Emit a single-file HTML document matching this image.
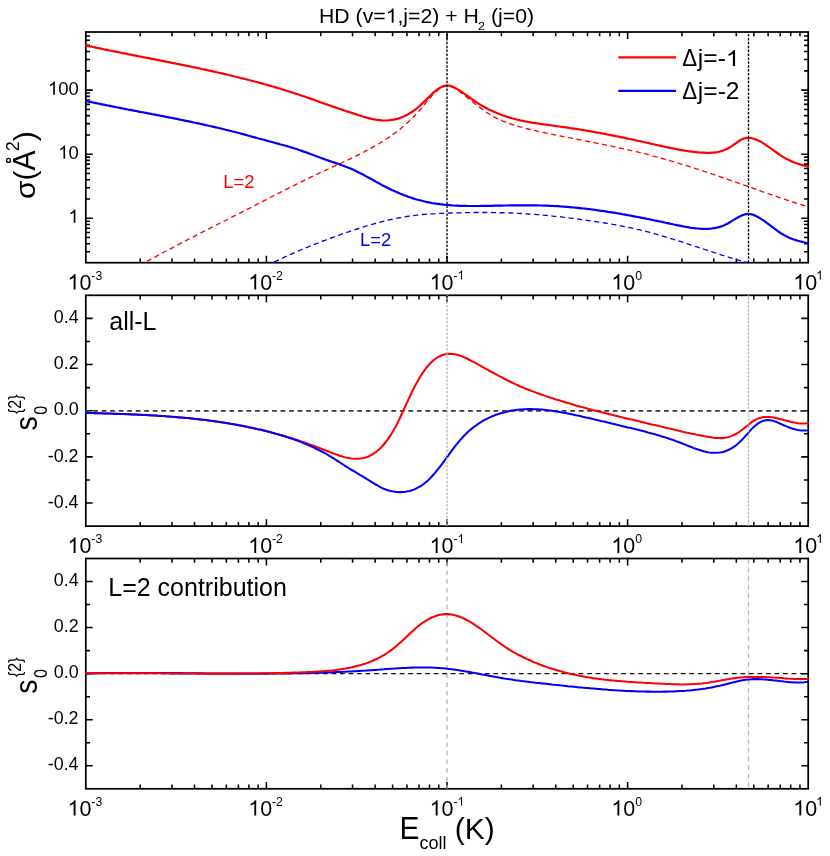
<!DOCTYPE html><html><head><meta charset="utf-8"><title>chart</title><style>
html,body{margin:0;padding:0;background:#fff}body{width:830px;height:856px;overflow:hidden}
svg{display:block;will-change:transform}text{font-family:"Liberation Sans",sans-serif;fill:#000}
</style></head><body>
<svg width="830" height="856" viewBox="0 0 830 856">
<rect x="0" y="0" width="830" height="856" fill="#fff"/>
<defs>
<clipPath id="k0"><rect x="84.90" y="31.10" width="724.20" height="232.50"/></clipPath>
<clipPath id="k1"><rect x="84.90" y="294.40" width="724.20" height="232.60"/></clipPath>
<clipPath id="k2"><rect x="84.90" y="557.60" width="724.20" height="232.10"/></clipPath>
</defs>
<path d="M140.17 32.00v4.20M140.17 262.70v-4.20M171.97 32.00v4.20M171.97 262.70v-4.20M194.53 32.00v4.20M194.53 262.70v-4.20M212.03 32.00v4.20M212.03 262.70v-4.20M226.33 32.00v4.20M226.33 262.70v-4.20M238.42 32.00v4.20M238.42 262.70v-4.20M248.90 32.00v4.20M248.90 262.70v-4.20M258.14 32.00v4.20M258.14 262.70v-4.20M266.40 32.00v6.90M266.40 262.70v-6.90M320.77 32.00v4.20M320.77 262.70v-4.20M352.57 32.00v4.20M352.57 262.70v-4.20M375.13 32.00v4.20M375.13 262.70v-4.20M392.63 32.00v4.20M392.63 262.70v-4.20M406.93 32.00v4.20M406.93 262.70v-4.20M419.02 32.00v4.20M419.02 262.70v-4.20M429.50 32.00v4.20M429.50 262.70v-4.20M438.74 32.00v4.20M438.74 262.70v-4.20M447.00 32.00v6.90M447.00 262.70v-6.90M501.37 32.00v4.20M501.37 262.70v-4.20M533.17 32.00v4.20M533.17 262.70v-4.20M555.73 32.00v4.20M555.73 262.70v-4.20M573.23 32.00v4.20M573.23 262.70v-4.20M587.53 32.00v4.20M587.53 262.70v-4.20M599.62 32.00v4.20M599.62 262.70v-4.20M610.10 32.00v4.20M610.10 262.70v-4.20M619.34 32.00v4.20M619.34 262.70v-4.20M627.60 32.00v6.90M627.60 262.70v-6.90M681.97 32.00v4.20M681.97 262.70v-4.20M713.77 32.00v4.20M713.77 262.70v-4.20M736.33 32.00v4.20M736.33 262.70v-4.20M753.83 32.00v4.20M753.83 262.70v-4.20M768.13 32.00v4.20M768.13 262.70v-4.20M780.22 32.00v4.20M780.22 262.70v-4.20M790.70 32.00v4.20M790.70 262.70v-4.20M799.94 32.00v4.20M799.94 262.70v-4.20M85.80 251.72h4.20M808.20 251.72h-4.20M85.80 243.72h4.20M808.20 243.72h-4.20M85.80 237.51h4.20M808.20 237.51h-4.20M85.80 232.44h4.20M808.20 232.44h-4.20M85.80 228.15h4.20M808.20 228.15h-4.20M85.80 224.44h4.20M808.20 224.44h-4.20M85.80 221.16h4.20M808.20 221.16h-4.20M85.80 218.23h6.90M808.20 218.23h-6.90M85.80 198.95h4.20M808.20 198.95h-4.20M85.80 187.68h4.20M808.20 187.68h-4.20M85.80 179.67h4.20M808.20 179.67h-4.20M85.80 173.47h4.20M808.20 173.47h-4.20M85.80 168.40h4.20M808.20 168.40h-4.20M85.80 164.11h4.20M808.20 164.11h-4.20M85.80 160.39h4.20M808.20 160.39h-4.20M85.80 157.12h4.20M808.20 157.12h-4.20M85.80 154.19h6.90M808.20 154.19h-6.90M85.80 134.91h4.20M808.20 134.91h-4.20M85.80 123.63h4.20M808.20 123.63h-4.20M85.80 115.63h4.20M808.20 115.63h-4.20M85.80 109.42h4.20M808.20 109.42h-4.20M85.80 104.35h4.20M808.20 104.35h-4.20M85.80 100.06h4.20M808.20 100.06h-4.20M85.80 96.35h4.20M808.20 96.35h-4.20M85.80 93.07h4.20M808.20 93.07h-4.20M85.80 90.14h6.90M808.20 90.14h-6.90M85.80 70.86h4.20M808.20 70.86h-4.20M85.80 59.58h4.20M808.20 59.58h-4.20M85.80 51.58h4.20M808.20 51.58h-4.20M85.80 45.37h4.20M808.20 45.37h-4.20M85.80 40.30h4.20M808.20 40.30h-4.20M85.80 36.01h4.20M808.20 36.01h-4.20" stroke="#000" stroke-width="1.55" fill="none"/>
<rect x="85.80" y="32.00" width="722.40" height="230.70" fill="none" stroke="#000" stroke-width="1.75"/>
<path d="M140.17 295.30v4.20M140.17 526.10v-4.20M171.97 295.30v4.20M171.97 526.10v-4.20M194.53 295.30v4.20M194.53 526.10v-4.20M212.03 295.30v4.20M212.03 526.10v-4.20M226.33 295.30v4.20M226.33 526.10v-4.20M238.42 295.30v4.20M238.42 526.10v-4.20M248.90 295.30v4.20M248.90 526.10v-4.20M258.14 295.30v4.20M258.14 526.10v-4.20M266.40 295.30v6.90M266.40 526.10v-6.90M320.77 295.30v4.20M320.77 526.10v-4.20M352.57 295.30v4.20M352.57 526.10v-4.20M375.13 295.30v4.20M375.13 526.10v-4.20M392.63 295.30v4.20M392.63 526.10v-4.20M406.93 295.30v4.20M406.93 526.10v-4.20M419.02 295.30v4.20M419.02 526.10v-4.20M429.50 295.30v4.20M429.50 526.10v-4.20M438.74 295.30v4.20M438.74 526.10v-4.20M447.00 295.30v6.90M447.00 526.10v-6.90M501.37 295.30v4.20M501.37 526.10v-4.20M533.17 295.30v4.20M533.17 526.10v-4.20M555.73 295.30v4.20M555.73 526.10v-4.20M573.23 295.30v4.20M573.23 526.10v-4.20M587.53 295.30v4.20M587.53 526.10v-4.20M599.62 295.30v4.20M599.62 526.10v-4.20M610.10 295.30v4.20M610.10 526.10v-4.20M619.34 295.30v4.20M619.34 526.10v-4.20M627.60 295.30v6.90M627.60 526.10v-6.90M681.97 295.30v4.20M681.97 526.10v-4.20M713.77 295.30v4.20M713.77 526.10v-4.20M736.33 295.30v4.20M736.33 526.10v-4.20M753.83 295.30v4.20M753.83 526.10v-4.20M768.13 295.30v4.20M768.13 526.10v-4.20M780.22 295.30v4.20M780.22 526.10v-4.20M790.70 295.30v4.20M790.70 526.10v-4.20M799.94 295.30v4.20M799.94 526.10v-4.20M85.80 503.02h6.90M808.20 503.02h-6.90M85.80 479.94h4.20M808.20 479.94h-4.20M85.80 456.86h6.90M808.20 456.86h-6.90M85.80 433.78h4.20M808.20 433.78h-4.20M85.80 410.70h6.90M808.20 410.70h-6.90M85.80 387.62h4.20M808.20 387.62h-4.20M85.80 364.54h6.90M808.20 364.54h-6.90M85.80 341.46h4.20M808.20 341.46h-4.20M85.80 318.38h6.90M808.20 318.38h-6.90" stroke="#000" stroke-width="1.55" fill="none"/>
<rect x="85.80" y="295.30" width="722.40" height="230.80" fill="none" stroke="#000" stroke-width="1.75"/>
<path d="M140.17 558.50v4.20M140.17 788.80v-4.20M171.97 558.50v4.20M171.97 788.80v-4.20M194.53 558.50v4.20M194.53 788.80v-4.20M212.03 558.50v4.20M212.03 788.80v-4.20M226.33 558.50v4.20M226.33 788.80v-4.20M238.42 558.50v4.20M238.42 788.80v-4.20M248.90 558.50v4.20M248.90 788.80v-4.20M258.14 558.50v4.20M258.14 788.80v-4.20M266.40 558.50v6.90M266.40 788.80v-6.90M320.77 558.50v4.20M320.77 788.80v-4.20M352.57 558.50v4.20M352.57 788.80v-4.20M375.13 558.50v4.20M375.13 788.80v-4.20M392.63 558.50v4.20M392.63 788.80v-4.20M406.93 558.50v4.20M406.93 788.80v-4.20M419.02 558.50v4.20M419.02 788.80v-4.20M429.50 558.50v4.20M429.50 788.80v-4.20M438.74 558.50v4.20M438.74 788.80v-4.20M447.00 558.50v6.90M447.00 788.80v-6.90M501.37 558.50v4.20M501.37 788.80v-4.20M533.17 558.50v4.20M533.17 788.80v-4.20M555.73 558.50v4.20M555.73 788.80v-4.20M573.23 558.50v4.20M573.23 788.80v-4.20M587.53 558.50v4.20M587.53 788.80v-4.20M599.62 558.50v4.20M599.62 788.80v-4.20M610.10 558.50v4.20M610.10 788.80v-4.20M619.34 558.50v4.20M619.34 788.80v-4.20M627.60 558.50v6.90M627.60 788.80v-6.90M681.97 558.50v4.20M681.97 788.80v-4.20M713.77 558.50v4.20M713.77 788.80v-4.20M736.33 558.50v4.20M736.33 788.80v-4.20M753.83 558.50v4.20M753.83 788.80v-4.20M768.13 558.50v4.20M768.13 788.80v-4.20M780.22 558.50v4.20M780.22 788.80v-4.20M790.70 558.50v4.20M790.70 788.80v-4.20M799.94 558.50v4.20M799.94 788.80v-4.20M85.80 765.77h6.90M808.20 765.77h-6.90M85.80 742.74h4.20M808.20 742.74h-4.20M85.80 719.71h6.90M808.20 719.71h-6.90M85.80 696.68h4.20M808.20 696.68h-4.20M85.80 673.65h6.90M808.20 673.65h-6.90M85.80 650.62h4.20M808.20 650.62h-4.20M85.80 627.59h6.90M808.20 627.59h-6.90M85.80 604.56h4.20M808.20 604.56h-4.20M85.80 581.53h6.90M808.20 581.53h-6.90" stroke="#000" stroke-width="1.55" fill="none"/>
<rect x="85.80" y="558.50" width="722.40" height="230.30" fill="none" stroke="#000" stroke-width="1.75"/>
<g clip-path="url(#k0)" fill="none" stroke-linejoin="round">
<path d="M144.3 262.9L146.3 261.8L148.3 260.7L150.3 259.6L152.3 258.5L154.3 257.4L156.3 256.3L158.3 255.2L160.3 254.2L162.3 253.1L164.3 252.0L166.3 251.0L168.3 249.9L170.3 248.8L172.3 247.8L174.3 246.7L176.3 245.7L178.3 244.6L180.3 243.6L182.3 242.5L184.3 241.5L186.3 240.4L188.3 239.4L190.3 238.4L192.3 237.3L194.3 236.3L196.3 235.3L198.3 234.2L200.3 233.2L202.3 232.2L204.3 231.2L206.3 230.1L208.3 229.1L210.3 228.1L212.3 227.1L214.3 226.1L216.3 225.0L218.3 224.0L220.3 223.0L222.3 222.0L224.3 221.0L226.3 220.0L228.3 218.9L230.3 217.9L232.3 216.9L234.3 215.9L236.3 214.9L238.3 213.9L240.3 212.8L242.3 211.8L244.3 210.8L246.3 209.8L248.3 208.8L250.3 207.8L252.3 206.7L254.3 205.7L256.3 204.7L258.3 203.7L260.3 202.6L262.3 201.6L264.3 200.6L266.3 199.6L268.3 198.5L270.3 197.5L272.3 196.5L274.3 195.4L276.3 194.4L278.3 193.4L280.3 192.4L282.3 191.3L284.3 190.3L286.3 189.3L288.3 188.3L290.3 187.3L292.3 186.3L294.3 185.3L296.3 184.3L298.3 183.3L300.3 182.3L302.3 181.3L304.3 180.3L306.3 179.3L308.3 178.3L310.3 177.4L312.3 176.4L314.3 175.5L316.3 174.5L318.3 173.6L320.3 172.6L322.3 171.7L324.3 170.8L326.3 169.9L328.3 169.0L330.3 168.0L332.3 167.1L334.3 166.2L336.3 165.3L338.3 164.4L340.3 163.5L342.3 162.5L344.3 161.6L346.3 160.7L348.3 159.7L350.3 158.8L352.3 157.8L354.3 156.9L356.3 155.9L358.3 154.9L360.3 153.9L362.3 152.8L364.3 151.8L366.3 150.7L368.3 149.7L370.3 148.6L372.3 147.4L374.3 146.3L376.3 145.1L378.3 144.0L380.3 142.8L382.3 141.5L384.3 140.3L386.3 139.0L388.3 137.7L390.3 136.3L392.3 134.9L394.3 133.5L396.3 132.0L398.3 130.5L400.3 128.9L402.3 127.2L404.3 125.5L406.3 123.8L408.3 121.9L410.3 120.1L412.3 118.1L414.3 116.0L416.3 113.9L418.3 111.7L420.3 109.5L422.3 107.1L424.3 104.7L426.3 102.2L428.3 99.8L430.3 97.5L432.3 95.3L434.3 93.3L436.3 91.4L438.3 89.8L440.3 88.4L442.3 87.3L444.3 86.6L446.3 86.1L448.3 86.1L450.3 86.5L452.3 87.2L454.3 88.1L456.3 89.3L458.3 90.6L460.3 92.1L462.3 93.6L464.3 95.2L466.3 96.8L468.3 98.4L470.3 100.0L472.3 101.6L474.3 103.2L476.3 104.8L478.3 106.3L480.3 107.9L482.3 109.4L484.3 110.8L486.3 112.2L488.3 113.5L490.3 114.8L492.3 116.0L494.3 117.1L496.3 118.1L498.3 119.1L500.3 120.0L502.3 120.9L504.3 121.7L506.3 122.4L508.3 123.2L510.3 123.8L512.3 124.5L514.3 125.1L516.3 125.7L518.3 126.3L520.3 126.9L522.3 127.4L524.3 127.9L526.3 128.5L528.3 129.0L530.3 129.5L532.3 130.0L534.3 130.4L536.3 130.9L538.3 131.4L540.3 131.8L542.3 132.3L544.3 132.7L546.3 133.1L548.3 133.5L550.3 134.0L552.3 134.4L554.3 134.8L556.3 135.2L558.3 135.6L560.3 136.0L562.3 136.4L564.3 136.8L566.3 137.2L568.3 137.6L570.3 137.9L572.3 138.3L574.3 138.7L576.3 139.1L578.3 139.5L580.3 139.9L582.3 140.3L584.3 140.7L586.3 141.1L588.3 141.5L590.3 141.9L592.3 142.3L594.3 142.7L596.3 143.1L598.3 143.5L600.3 143.9L602.3 144.3L604.3 144.7L606.3 145.1L608.3 145.5L610.3 145.9L612.3 146.3L614.3 146.8L616.3 147.2L618.3 147.6L620.3 148.1L622.3 148.5L624.3 149.0L626.3 149.4L628.3 149.9L630.3 150.3L632.3 150.8L634.3 151.3L636.3 151.7L638.3 152.2L640.3 152.7L642.3 153.2L644.3 153.7L646.3 154.2L648.3 154.7L650.3 155.3L652.3 155.8L654.3 156.3L656.3 156.8L658.3 157.4L660.3 157.9L662.3 158.5L664.3 159.1L666.3 159.6L668.3 160.2L670.3 160.8L672.3 161.4L674.3 162.0L676.3 162.6L678.3 163.2L680.3 163.8L682.3 164.4L684.3 165.0L686.3 165.6L688.3 166.2L690.3 166.9L692.3 167.5L694.3 168.1L696.3 168.8L698.3 169.4L700.3 170.1L702.3 170.7L704.3 171.4L706.3 172.1L708.3 172.7L710.3 173.4L712.3 174.1L714.3 174.7L716.3 175.4L718.3 176.1L720.3 176.8L722.3 177.5L724.3 178.2L726.3 178.9L728.3 179.6L730.3 180.3L732.3 181.0L734.3 181.7L736.3 182.4L738.3 183.1L740.3 183.8L742.3 184.5L744.3 185.2L746.3 185.9L748.3 186.6L750.3 187.3L752.3 188.0L754.3 188.7L756.3 189.4L758.3 190.1L760.3 190.8L762.3 191.6L764.3 192.3L766.3 193.0L768.3 193.7L770.3 194.3L772.3 195.0L774.3 195.7L776.3 196.4L778.3 197.1L780.3 197.8L782.3 198.5L784.3 199.1L786.3 199.8L788.3 200.5L790.3 201.1L792.3 201.8L794.3 202.5L796.3 203.1L798.3 203.8L800.3 204.4L802.3 205.0L804.3 205.7L806.3 206.3L808.1 206.8L808.9 207.1" stroke="#f00" stroke-width="1.35" stroke-dasharray="5.1 3.55" stroke-dashoffset="-3"/>
<path d="M273.0 262.6L275.0 261.6L277.0 260.7L279.0 259.7L281.0 258.8L283.0 257.9L285.0 256.9L287.0 256.0L289.0 255.1L291.0 254.2L293.0 253.3L295.0 252.5L297.0 251.6L299.0 250.7L301.0 249.9L303.0 249.0L305.0 248.2L307.0 247.4L309.0 246.6L311.0 245.7L313.0 244.9L315.0 244.1L317.0 243.4L319.0 242.6L321.0 241.8L323.0 241.0L325.0 240.3L327.0 239.5L329.0 238.8L331.0 238.0L333.0 237.3L335.0 236.6L337.0 235.8L339.0 235.1L341.0 234.4L343.0 233.7L345.0 233.0L347.0 232.3L349.0 231.6L351.0 231.0L353.0 230.3L355.0 229.6L357.0 229.0L359.0 228.3L361.0 227.7L363.0 227.1L365.0 226.4L367.0 225.8L369.0 225.2L371.0 224.6L373.0 224.1L375.0 223.5L377.0 222.9L379.0 222.4L381.0 221.9L383.0 221.4L385.0 220.9L387.0 220.4L389.0 219.9L391.0 219.5L393.0 219.0L395.0 218.6L397.0 218.2L399.0 217.8L401.0 217.5L403.0 217.1L405.0 216.8L407.0 216.5L409.0 216.2L411.0 215.9L413.0 215.6L415.0 215.4L417.0 215.2L419.0 214.9L421.0 214.7L423.0 214.5L425.0 214.4L427.0 214.2L429.0 214.0L431.0 213.9L433.0 213.8L435.0 213.7L437.0 213.5L439.0 213.4L441.0 213.3L443.0 213.3L445.0 213.2L447.0 213.1L449.0 213.0L451.0 213.0L453.0 212.9L455.0 212.9L457.0 212.8L459.0 212.8L461.0 212.7L463.0 212.7L465.0 212.6L467.0 212.6L469.0 212.6L471.0 212.6L473.0 212.5L475.0 212.5L477.0 212.5L479.0 212.5L481.0 212.5L483.0 212.5L485.0 212.5L487.0 212.5L489.0 212.5L491.0 212.5L493.0 212.6L495.0 212.6L497.0 212.6L499.0 212.7L501.0 212.7L503.0 212.7L505.0 212.8L507.0 212.9L509.0 212.9L511.0 213.0L513.0 213.1L515.0 213.2L517.0 213.3L519.0 213.4L521.0 213.5L523.0 213.6L525.0 213.7L527.0 213.8L529.0 214.0L531.0 214.1L533.0 214.2L535.0 214.4L537.0 214.6L539.0 214.7L541.0 214.9L543.0 215.1L545.0 215.3L547.0 215.4L549.0 215.6L551.0 215.8L553.0 216.1L555.0 216.3L557.0 216.5L559.0 216.7L561.0 216.9L563.0 217.2L565.0 217.4L567.0 217.6L569.0 217.9L571.0 218.1L573.0 218.4L575.0 218.7L577.0 218.9L579.0 219.2L581.0 219.5L583.0 219.7L585.0 220.0L587.0 220.3L589.0 220.6L591.0 220.9L593.0 221.2L595.0 221.5L597.0 221.8L599.0 222.1L601.0 222.4L603.0 222.7L605.0 223.0L607.0 223.3L609.0 223.7L611.0 224.0L613.0 224.4L615.0 224.7L617.0 225.1L619.0 225.5L621.0 225.9L623.0 226.3L625.0 226.7L627.0 227.1L629.0 227.5L631.0 227.9L633.0 228.3L635.0 228.8L637.0 229.3L639.0 229.7L641.0 230.2L643.0 230.7L645.0 231.2L647.0 231.7L649.0 232.2L651.0 232.8L653.0 233.3L655.0 233.9L657.0 234.4L659.0 235.0L661.0 235.6L663.0 236.2L665.0 236.8L667.0 237.4L669.0 238.0L671.0 238.6L673.0 239.2L675.0 239.8L677.0 240.5L679.0 241.1L681.0 241.7L683.0 242.4L685.0 243.0L687.0 243.7L689.0 244.3L691.0 245.0L693.0 245.6L695.0 246.3L697.0 246.9L699.0 247.6L701.0 248.3L703.0 248.9L705.0 249.6L707.0 250.2L709.0 250.9L711.0 251.5L713.0 252.2L715.0 252.8L717.0 253.5L719.0 254.1L721.0 254.8L723.0 255.4L725.0 256.0L727.0 256.7L729.0 257.3L731.0 257.9L733.0 258.5L735.0 259.1L737.0 259.7L739.0 260.3L741.0 260.9L743.0 261.5L745.0 262.0L746.5 262.5" stroke="#00f" stroke-width="1.35" stroke-dasharray="5.1 3.55" stroke-dashoffset="-1.4"/>
<path d="M85.0 45.3L85.8 45.4L87.8 45.9L89.8 46.3L91.8 46.7L93.8 47.2L95.8 47.6L97.8 48.0L99.8 48.4L101.8 48.8L103.8 49.3L105.8 49.7L107.8 50.1L109.8 50.5L111.8 50.9L113.8 51.3L115.8 51.7L117.8 52.1L119.8 52.5L121.8 52.9L123.8 53.3L125.8 53.7L127.8 54.1L129.8 54.5L131.8 54.9L133.8 55.3L135.8 55.7L137.8 56.1L139.8 56.5L141.8 56.9L143.8 57.3L145.8 57.7L147.8 58.0L149.8 58.4L151.8 58.8L153.8 59.2L155.8 59.6L157.8 60.0L159.8 60.4L161.8 60.8L163.8 61.2L165.8 61.6L167.8 62.0L169.8 62.4L171.8 62.8L173.8 63.2L175.8 63.6L177.8 64.0L179.8 64.4L181.8 64.8L183.8 65.2L185.8 65.6L187.8 66.0L189.8 66.4L191.8 66.9L193.8 67.3L195.8 67.7L197.8 68.1L199.8 68.5L201.8 69.0L203.8 69.4L205.8 69.8L207.8 70.3L209.8 70.7L211.8 71.1L213.8 71.6L215.8 72.0L217.8 72.5L219.8 72.9L221.8 73.4L223.8 73.9L225.8 74.3L227.8 74.8L229.8 75.3L231.8 75.7L233.8 76.2L235.8 76.7L237.8 77.2L239.8 77.7L241.8 78.2L243.8 78.7L245.8 79.2L247.8 79.7L249.8 80.2L251.8 80.7L253.8 81.3L255.8 81.8L257.8 82.3L259.8 82.9L261.8 83.4L263.8 84.0L265.8 84.5L267.8 85.1L269.8 85.7L271.8 86.3L273.8 86.8L275.8 87.4L277.8 88.0L279.8 88.6L281.8 89.2L283.8 89.8L285.8 90.5L287.8 91.1L289.8 91.7L291.8 92.4L293.8 93.0L295.8 93.7L297.8 94.3L299.8 95.0L301.8 95.7L303.8 96.3L305.8 97.0L307.8 97.7L309.8 98.4L311.8 99.1L313.8 99.8L315.8 100.5L317.8 101.3L319.8 102.0L321.8 102.7L323.8 103.4L325.8 104.1L327.8 104.8L329.8 105.5L331.8 106.2L333.8 106.9L335.8 107.6L337.8 108.3L339.8 109.0L341.8 109.6L343.8 110.3L345.8 111.0L347.8 111.6L349.8 112.3L351.8 112.9L353.8 113.6L355.8 114.2L357.8 114.9L359.8 115.5L361.8 116.2L363.8 116.8L365.8 117.4L367.8 117.9L369.8 118.4L371.8 118.9L373.8 119.3L375.8 119.7L377.8 120.0L379.8 120.2L381.8 120.4L383.8 120.5L385.8 120.5L387.8 120.4L389.8 120.2L391.8 119.9L393.8 119.6L395.8 119.1L397.8 118.6L399.8 118.0L401.8 117.2L403.8 116.4L405.8 115.4L407.8 114.4L409.8 113.2L411.8 112.0L413.8 110.6L415.8 109.1L417.8 107.5L419.8 105.8L421.8 103.9L423.8 102.0L425.8 100.1L427.8 98.1L429.8 96.2L431.8 94.3L433.8 92.4L435.8 90.7L437.8 89.2L439.8 87.9L441.8 86.8L443.8 86.0L445.8 85.5L447.8 85.5L449.8 85.7L451.8 86.3L453.8 87.2L455.8 88.2L457.8 89.4L459.8 90.7L461.8 92.0L463.8 93.4L465.8 94.8L467.8 96.2L469.8 97.7L471.8 99.1L473.8 100.5L475.8 101.8L477.8 103.2L479.8 104.4L481.8 105.6L483.8 106.7L485.8 107.8L487.8 108.9L489.8 109.9L491.8 110.8L493.8 111.8L495.8 112.6L497.8 113.4L499.8 114.2L501.8 115.0L503.8 115.7L505.8 116.4L507.8 117.0L509.8 117.6L511.8 118.2L513.8 118.7L515.8 119.3L517.8 119.8L519.8 120.2L521.8 120.7L523.8 121.1L525.8 121.5L527.8 121.9L529.8 122.2L531.8 122.6L533.8 122.9L535.8 123.2L537.8 123.5L539.8 123.8L541.8 124.1L543.8 124.4L545.8 124.7L547.8 125.0L549.8 125.2L551.8 125.5L553.8 125.7L555.8 126.0L557.8 126.3L559.8 126.5L561.8 126.8L563.8 127.1L565.8 127.4L567.8 127.7L569.8 128.0L571.8 128.3L573.8 128.6L575.8 128.9L577.8 129.2L579.8 129.5L581.8 129.9L583.8 130.2L585.8 130.5L587.8 130.9L589.8 131.2L591.8 131.6L593.8 131.9L595.8 132.3L597.8 132.6L599.8 133.0L601.8 133.4L603.8 133.7L605.8 134.1L607.8 134.5L609.8 134.9L611.8 135.3L613.8 135.7L615.8 136.1L617.8 136.5L619.8 136.9L621.8 137.3L623.8 137.7L625.8 138.1L627.8 138.6L629.8 139.0L631.8 139.4L633.8 139.8L635.8 140.3L637.8 140.7L639.8 141.2L641.8 141.6L643.8 142.0L645.8 142.5L647.8 142.9L649.8 143.4L651.8 143.8L653.8 144.3L655.8 144.8L657.8 145.2L659.8 145.7L661.8 146.1L663.8 146.5L665.8 147.0L667.8 147.4L669.8 147.8L671.8 148.2L673.8 148.6L675.8 149.0L677.8 149.4L679.8 149.8L681.8 150.1L683.8 150.4L685.8 150.8L687.8 151.1L689.8 151.3L691.8 151.6L693.8 151.9L695.8 152.1L697.8 152.3L699.8 152.5L701.8 152.6L703.8 152.7L705.8 152.8L707.8 152.9L709.8 152.8L711.8 152.7L713.8 152.6L715.8 152.3L717.8 152.0L719.8 151.5L721.8 150.9L723.8 150.3L725.8 149.4L727.8 148.5L729.8 147.4L731.8 146.1L733.8 144.7L735.8 143.3L737.8 141.9L739.8 140.5L741.8 139.4L743.8 138.5L745.8 138.0L747.8 137.8L749.8 137.9L751.8 138.2L753.8 138.7L755.8 139.4L757.8 140.3L759.8 141.3L761.8 142.4L763.8 143.6L765.8 144.9L767.8 146.3L769.8 147.7L771.8 149.1L773.8 150.6L775.8 152.0L777.8 153.5L779.8 154.9L781.8 156.2L783.8 157.4L785.8 158.6L787.8 159.6L789.8 160.6L791.8 161.5L793.8 162.3L795.8 163.0L797.8 163.7L799.8 164.4L801.8 164.9L803.8 165.5L805.8 166.0L807.8 166.5L808.4 166.7L809.2 166.9" stroke="#f00" stroke-width="2.2"/>
<path d="M85.0 100.8L85.8 100.9L87.8 101.4L89.8 101.8L91.8 102.2L93.8 102.7L95.8 103.1L97.8 103.5L99.8 103.9L101.8 104.3L103.8 104.7L105.8 105.1L107.8 105.5L109.8 105.9L111.8 106.3L113.8 106.7L115.8 107.1L117.8 107.5L119.8 107.9L121.8 108.3L123.8 108.7L125.8 109.1L127.8 109.5L129.8 109.8L131.8 110.2L133.8 110.6L135.8 111.0L137.8 111.4L139.8 111.8L141.8 112.1L143.8 112.5L145.8 112.9L147.8 113.3L149.8 113.7L151.8 114.1L153.8 114.4L155.8 114.8L157.8 115.2L159.8 115.6L161.8 116.0L163.8 116.4L165.8 116.8L167.8 117.2L169.8 117.6L171.8 117.9L173.8 118.3L175.8 118.7L177.8 119.1L179.8 119.6L181.8 120.0L183.8 120.4L185.8 120.8L187.8 121.2L189.8 121.6L191.8 122.0L193.8 122.5L195.8 122.9L197.8 123.3L199.8 123.7L201.8 124.2L203.8 124.6L205.8 125.1L207.8 125.5L209.8 126.0L211.8 126.4L213.8 126.9L215.8 127.3L217.8 127.8L219.8 128.3L221.8 128.8L223.8 129.3L225.8 129.8L227.8 130.2L229.8 130.7L231.8 131.3L233.8 131.8L235.8 132.3L237.8 132.8L239.8 133.3L241.8 133.9L243.8 134.4L245.8 134.9L247.8 135.5L249.8 136.0L251.8 136.6L253.8 137.1L255.8 137.6L257.8 138.2L259.8 138.7L261.8 139.3L263.8 139.8L265.8 140.4L267.8 140.9L269.8 141.5L271.8 142.0L273.8 142.5L275.8 143.1L277.8 143.6L279.8 144.2L281.8 144.7L283.8 145.3L285.8 145.8L287.8 146.4L289.8 147.0L291.8 147.6L293.8 148.2L295.8 148.8L297.8 149.5L299.8 150.2L301.8 150.9L303.8 151.6L305.8 152.3L307.8 153.1L309.8 153.8L311.8 154.5L313.8 155.3L315.8 156.0L317.8 156.8L319.8 157.5L321.8 158.2L323.8 158.9L325.8 159.7L327.8 160.4L329.8 161.1L331.8 161.8L333.8 162.4L335.8 163.1L337.8 163.8L339.8 164.5L341.8 165.2L343.8 165.9L345.8 166.7L347.8 167.4L349.8 168.2L351.8 169.1L353.8 170.0L355.8 170.9L357.8 171.9L359.8 172.9L361.8 173.9L363.8 175.0L365.8 176.1L367.8 177.2L369.8 178.3L371.8 179.4L373.8 180.5L375.8 181.6L377.8 182.7L379.8 183.8L381.8 184.9L383.8 185.9L385.8 186.9L387.8 187.9L389.8 188.9L391.8 189.9L393.8 190.8L395.8 191.7L397.8 192.6L399.8 193.5L401.8 194.3L403.8 195.1L405.8 195.8L407.8 196.6L409.8 197.3L411.8 197.9L413.8 198.6L415.8 199.2L417.8 199.8L419.8 200.3L421.8 200.8L423.8 201.3L425.8 201.8L427.8 202.2L429.8 202.6L431.8 203.0L433.8 203.3L435.8 203.6L437.8 203.9L439.8 204.2L441.8 204.4L443.8 204.7L445.8 204.9L447.8 205.0L449.8 205.2L451.8 205.4L453.8 205.5L455.8 205.6L457.8 205.7L459.8 205.8L461.8 205.8L463.8 205.9L465.8 205.9L467.8 206.0L469.8 206.0L471.8 206.0L473.8 206.0L475.8 206.0L477.8 206.0L479.8 206.0L481.8 205.9L483.8 205.9L485.8 205.9L487.8 205.8L489.8 205.8L491.8 205.8L493.8 205.7L495.8 205.7L497.8 205.7L499.8 205.6L501.8 205.6L503.8 205.5L505.8 205.5L507.8 205.5L509.8 205.4L511.8 205.4L513.8 205.4L515.8 205.4L517.8 205.4L519.8 205.3L521.8 205.3L523.8 205.3L525.8 205.3L527.8 205.3L529.8 205.3L531.8 205.4L533.8 205.4L535.8 205.4L537.8 205.4L539.8 205.5L541.8 205.5L543.8 205.6L545.8 205.6L547.8 205.7L549.8 205.8L551.8 205.9L553.8 206.0L555.8 206.1L557.8 206.2L559.8 206.3L561.8 206.5L563.8 206.6L565.8 206.8L567.8 206.9L569.8 207.1L571.8 207.3L573.8 207.5L575.8 207.7L577.8 207.9L579.8 208.1L581.8 208.3L583.8 208.5L585.8 208.7L587.8 209.0L589.8 209.2L591.8 209.5L593.8 209.7L595.8 210.0L597.8 210.3L599.8 210.6L601.8 210.8L603.8 211.1L605.8 211.4L607.8 211.8L609.8 212.1L611.8 212.4L613.8 212.7L615.8 213.0L617.8 213.4L619.8 213.7L621.8 214.1L623.8 214.4L625.8 214.8L627.8 215.2L629.8 215.5L631.8 215.9L633.8 216.3L635.8 216.7L637.8 217.0L639.8 217.4L641.8 217.8L643.8 218.2L645.8 218.6L647.8 219.0L649.8 219.4L651.8 219.8L653.8 220.3L655.8 220.7L657.8 221.1L659.8 221.5L661.8 221.9L663.8 222.3L665.8 222.8L667.8 223.2L669.8 223.6L671.8 224.0L673.8 224.5L675.8 224.9L677.8 225.3L679.8 225.7L681.8 226.1L683.8 226.5L685.8 226.9L687.8 227.2L689.8 227.6L691.8 227.9L693.8 228.1L695.8 228.3L697.8 228.5L699.8 228.7L701.8 228.8L703.8 228.8L705.8 228.8L707.8 228.8L709.8 228.7L711.8 228.5L713.8 228.2L715.8 227.9L717.8 227.4L719.8 226.9L721.8 226.2L723.8 225.5L725.8 224.5L727.8 223.5L729.8 222.3L731.8 221.1L733.8 219.9L735.8 218.6L737.8 217.5L739.8 216.4L741.8 215.4L743.8 214.7L745.8 214.1L747.8 213.9L749.8 214.0L751.8 214.4L753.8 215.0L755.8 215.9L757.8 217.0L759.8 218.1L761.8 219.4L763.8 220.7L765.8 222.1L767.8 223.6L769.8 225.1L771.8 226.6L773.8 228.1L775.8 229.6L777.8 231.1L779.8 232.5L781.8 233.8L783.8 235.0L785.8 236.1L787.8 237.1L789.8 238.0L791.8 238.8L793.8 239.5L795.8 240.1L797.8 240.7L799.8 241.2L801.8 241.7L803.8 242.2L805.8 242.7L807.8 243.2L808.1 243.3L808.9 243.6" stroke="#00f" stroke-width="2.2"/>
<path d="M447.00 262.70V32.00M748.50 262.70V32.00" stroke="#000" stroke-width="1.35" stroke-dasharray="2.5 1.4"/>
</g>
<g clip-path="url(#k1)" fill="none" stroke-linejoin="round">
<path d="M84.60 410.90H808.20" stroke="#3a3a3a" stroke-width="1.7" stroke-dasharray="4.8 3.72"/>
<path d="M85.0 412.8L85.8 412.8L87.8 412.9L89.8 413.0L91.8 413.0L93.8 413.1L95.8 413.1L97.8 413.2L99.8 413.2L101.8 413.3L103.8 413.4L105.8 413.4L107.8 413.5L109.8 413.5L111.8 413.6L113.8 413.7L115.8 413.7L117.8 413.8L119.8 413.9L121.8 414.0L123.8 414.0L125.8 414.1L127.8 414.2L129.8 414.3L131.8 414.4L133.8 414.4L135.8 414.5L137.8 414.6L139.8 414.7L141.8 414.8L143.8 414.9L145.8 415.0L147.8 415.1L149.8 415.2L151.8 415.3L153.8 415.5L155.8 415.6L157.8 415.7L159.8 415.8L161.8 416.0L163.8 416.1L165.8 416.3L167.8 416.4L169.8 416.6L171.8 416.7L173.8 416.9L175.8 417.0L177.8 417.2L179.8 417.4L181.8 417.6L183.8 417.7L185.8 417.9L187.8 418.1L189.8 418.3L191.8 418.5L193.8 418.7L195.8 419.0L197.8 419.2L199.8 419.4L201.8 419.7L203.8 419.9L205.8 420.1L207.8 420.4L209.8 420.7L211.8 420.9L213.8 421.2L215.8 421.5L217.8 421.8L219.8 422.1L221.8 422.4L223.8 422.7L225.8 423.0L227.8 423.3L229.8 423.7L231.8 424.0L233.8 424.3L235.8 424.7L237.8 425.1L239.8 425.4L241.8 425.8L243.8 426.2L245.8 426.6L247.8 427.0L249.8 427.4L251.8 427.9L253.8 428.3L255.8 428.7L257.8 429.2L259.8 429.6L261.8 430.1L263.8 430.6L265.8 431.1L267.8 431.6L269.8 432.1L271.8 432.6L273.8 433.1L275.8 433.7L277.8 434.2L279.8 434.8L281.8 435.3L283.8 435.9L285.8 436.5L287.8 437.1L289.8 437.7L291.8 438.3L293.8 439.0L295.8 439.6L297.8 440.2L299.8 440.9L301.8 441.6L303.8 442.3L305.8 443.0L307.8 443.7L309.8 444.4L311.8 445.1L313.8 445.8L315.8 446.6L317.8 447.4L319.8 448.1L321.8 448.9L323.8 449.7L325.8 450.5L327.8 451.3L329.8 452.1L331.8 452.8L333.8 453.6L335.8 454.3L337.8 455.0L339.8 455.7L341.8 456.3L343.8 456.9L345.8 457.4L347.8 457.8L349.8 458.2L351.8 458.5L353.8 458.7L355.8 458.7L357.8 458.7L359.8 458.6L361.8 458.3L363.8 457.9L365.8 457.4L367.8 456.7L369.8 455.8L371.8 454.7L373.8 453.5L375.8 452.1L377.8 450.5L379.8 448.7L381.8 446.7L383.8 444.5L385.8 442.0L387.8 439.3L389.8 436.4L391.8 433.3L393.8 429.9L395.8 426.2L397.8 422.4L399.8 418.3L401.8 414.0L403.8 409.7L405.8 405.2L407.8 400.8L409.8 396.5L411.8 392.3L413.8 388.3L415.8 384.5L417.8 380.9L419.8 377.4L421.8 374.2L423.8 371.3L425.8 368.5L427.8 366.0L429.8 363.8L431.8 361.8L433.8 360.0L435.8 358.5L437.8 357.2L439.8 356.2L441.8 355.3L443.8 354.6L445.8 354.2L447.8 353.9L449.8 353.8L451.8 353.9L453.8 354.1L455.8 354.5L457.8 355.0L459.8 355.6L461.8 356.3L463.8 357.1L465.8 358.0L467.8 359.0L469.8 360.0L471.8 361.1L473.8 362.1L475.8 363.2L477.8 364.3L479.8 365.4L481.8 366.6L483.8 367.7L485.8 368.8L487.8 369.9L489.8 371.0L491.8 372.1L493.8 373.2L495.8 374.2L497.8 375.3L499.8 376.4L501.8 377.4L503.8 378.5L505.8 379.5L507.8 380.5L509.8 381.5L511.8 382.5L513.8 383.4L515.8 384.4L517.8 385.3L519.8 386.2L521.8 387.0L523.8 387.9L525.8 388.7L527.8 389.5L529.8 390.3L531.8 391.1L533.8 391.8L535.8 392.6L537.8 393.3L539.8 394.0L541.8 394.7L543.8 395.4L545.8 396.1L547.8 396.8L549.8 397.4L551.8 398.1L553.8 398.7L555.8 399.4L557.8 400.0L559.8 400.6L561.8 401.2L563.8 401.8L565.8 402.4L567.8 403.0L569.8 403.6L571.8 404.2L573.8 404.8L575.8 405.4L577.8 405.9L579.8 406.5L581.8 407.0L583.8 407.6L585.8 408.1L587.8 408.7L589.8 409.2L591.8 409.7L593.8 410.3L595.8 410.8L597.8 411.3L599.8 411.8L601.8 412.3L603.8 412.8L605.8 413.3L607.8 413.8L609.8 414.3L611.8 414.8L613.8 415.3L615.8 415.8L617.8 416.3L619.8 416.8L621.8 417.3L623.8 417.7L625.8 418.2L627.8 418.7L629.8 419.2L631.8 419.6L633.8 420.1L635.8 420.6L637.8 421.1L639.8 421.5L641.8 422.0L643.8 422.5L645.8 423.0L647.8 423.4L649.8 423.9L651.8 424.4L653.8 424.8L655.8 425.3L657.8 425.8L659.8 426.3L661.8 426.7L663.8 427.2L665.8 427.7L667.8 428.2L669.8 428.6L671.8 429.1L673.8 429.6L675.8 430.1L677.8 430.6L679.8 431.0L681.8 431.5L683.8 431.9L685.8 432.4L687.8 432.8L689.8 433.3L691.8 433.7L693.8 434.1L695.8 434.6L697.8 435.0L699.8 435.3L701.8 435.7L703.8 436.1L705.8 436.4L707.8 436.8L709.8 437.1L711.8 437.4L713.8 437.7L715.8 437.9L717.8 438.0L719.8 438.1L721.8 438.1L723.8 437.9L725.8 437.6L727.8 437.2L729.8 436.6L731.8 435.9L733.8 435.0L735.8 434.0L737.8 432.8L739.8 431.5L741.8 430.0L743.8 428.5L745.8 426.8L747.8 425.2L749.8 423.6L751.8 422.1L753.8 420.7L755.8 419.6L757.8 418.6L759.8 417.9L761.8 417.4L763.8 417.1L765.8 416.9L767.8 416.9L769.8 417.0L771.8 417.2L773.8 417.5L775.8 417.9L777.8 418.4L779.8 418.9L781.8 419.4L783.8 420.0L785.8 420.5L787.8 421.0L789.8 421.6L791.8 422.0L793.8 422.5L795.8 422.8L797.8 423.2L799.8 423.4L801.8 423.5L803.8 423.5L805.8 423.4L807.8 423.1L808.1 423.1L808.9 423.0" stroke="#f00" stroke-width="2.05"/>
<path d="M85.0 412.8L85.8 412.8L87.8 412.9L89.8 412.9L91.8 413.0L93.8 413.1L95.8 413.1L97.8 413.2L99.8 413.3L101.8 413.3L103.8 413.4L105.8 413.5L107.8 413.5L109.8 413.6L111.8 413.7L113.8 413.7L115.8 413.8L117.8 413.9L119.8 414.0L121.8 414.0L123.8 414.1L125.8 414.2L127.8 414.3L129.8 414.3L131.8 414.4L133.8 414.5L135.8 414.6L137.8 414.7L139.8 414.8L141.8 414.9L143.8 415.0L145.8 415.1L147.8 415.2L149.8 415.3L151.8 415.4L153.8 415.5L155.8 415.6L157.8 415.8L159.8 415.9L161.8 416.0L163.8 416.1L165.8 416.3L167.8 416.4L169.8 416.6L171.8 416.7L173.8 416.9L175.8 417.0L177.8 417.2L179.8 417.4L181.8 417.5L183.8 417.7L185.8 417.9L187.8 418.1L189.8 418.3L191.8 418.5L193.8 418.7L195.8 418.9L197.8 419.1L199.8 419.4L201.8 419.6L203.8 419.8L205.8 420.1L207.8 420.3L209.8 420.6L211.8 420.9L213.8 421.1L215.8 421.4L217.8 421.7L219.8 422.0L221.8 422.3L223.8 422.6L225.8 422.9L227.8 423.2L229.8 423.6L231.8 423.9L233.8 424.3L235.8 424.6L237.8 425.0L239.8 425.4L241.8 425.8L243.8 426.2L245.8 426.6L247.8 427.0L249.8 427.4L251.8 427.8L253.8 428.3L255.8 428.7L257.8 429.2L259.8 429.6L261.8 430.1L263.8 430.6L265.8 431.1L267.8 431.6L269.8 432.1L271.8 432.7L273.8 433.2L275.8 433.8L277.8 434.3L279.8 434.9L281.8 435.5L283.8 436.1L285.8 436.7L287.8 437.4L289.8 438.0L291.8 438.7L293.8 439.4L295.8 440.1L297.8 440.8L299.8 441.6L301.8 442.4L303.8 443.2L305.8 444.0L307.8 444.8L309.8 445.7L311.8 446.6L313.8 447.5L315.8 448.5L317.8 449.5L319.8 450.5L321.8 451.5L323.8 452.6L325.8 453.7L327.8 454.9L329.8 456.1L331.8 457.3L333.8 458.5L335.8 459.8L337.8 461.1L339.8 462.4L341.8 463.7L343.8 465.0L345.8 466.3L347.8 467.5L349.8 468.8L351.8 470.0L353.8 471.2L355.8 472.4L357.8 473.6L359.8 474.8L361.8 475.9L363.8 477.1L365.8 478.3L367.8 479.6L369.8 480.8L371.8 482.1L373.8 483.3L375.8 484.5L377.8 485.7L379.8 486.8L381.8 487.8L383.8 488.8L385.8 489.6L387.8 490.2L389.8 490.8L391.8 491.3L393.8 491.6L395.8 491.9L397.8 492.1L399.8 492.1L401.8 492.1L403.8 491.9L405.8 491.7L407.8 491.3L409.8 490.9L411.8 490.3L413.8 489.6L415.8 488.7L417.8 487.7L419.8 486.6L421.8 485.3L423.8 483.9L425.8 482.3L427.8 480.6L429.8 478.6L431.8 476.5L433.8 474.3L435.8 471.9L437.8 469.5L439.8 466.9L441.8 464.3L443.8 461.6L445.8 458.9L447.8 456.1L449.8 453.4L451.8 450.6L453.8 447.9L455.8 445.3L457.8 442.8L459.8 440.4L461.8 438.2L463.8 436.0L465.8 434.0L467.8 432.1L469.8 430.3L471.8 428.6L473.8 427.0L475.8 425.6L477.8 424.1L479.8 422.8L481.8 421.6L483.8 420.4L485.8 419.4L487.8 418.4L489.8 417.4L491.8 416.5L493.8 415.7L495.8 414.9L497.8 414.2L499.8 413.6L501.8 413.0L503.8 412.4L505.8 411.9L507.8 411.4L509.8 411.0L511.8 410.6L513.8 410.3L515.8 410.0L517.8 409.8L519.8 409.6L521.8 409.4L523.8 409.3L525.8 409.2L527.8 409.1L529.8 409.1L531.8 409.1L533.8 409.2L535.8 409.2L537.8 409.3L539.8 409.5L541.8 409.6L543.8 409.8L545.8 410.0L547.8 410.2L549.8 410.5L551.8 410.8L553.8 411.1L555.8 411.4L557.8 411.7L559.8 412.0L561.8 412.4L563.8 412.8L565.8 413.1L567.8 413.5L569.8 413.9L571.8 414.3L573.8 414.7L575.8 415.2L577.8 415.6L579.8 416.0L581.8 416.5L583.8 416.9L585.8 417.4L587.8 417.8L589.8 418.3L591.8 418.8L593.8 419.3L595.8 419.7L597.8 420.2L599.8 420.7L601.8 421.2L603.8 421.6L605.8 422.1L607.8 422.6L609.8 423.1L611.8 423.6L613.8 424.0L615.8 424.5L617.8 425.0L619.8 425.5L621.8 425.9L623.8 426.4L625.8 426.9L627.8 427.4L629.8 427.8L631.8 428.3L633.8 428.8L635.8 429.3L637.8 429.8L639.8 430.3L641.8 430.8L643.8 431.3L645.8 431.8L647.8 432.4L649.8 432.9L651.8 433.5L653.8 434.0L655.8 434.6L657.8 435.2L659.8 435.8L661.8 436.4L663.8 437.0L665.8 437.6L667.8 438.3L669.8 439.0L671.8 439.6L673.8 440.3L675.8 441.1L677.8 441.8L679.8 442.5L681.8 443.3L683.8 444.1L685.8 444.9L687.8 445.7L689.8 446.5L691.8 447.3L693.8 448.1L695.8 448.8L697.8 449.5L699.8 450.1L701.8 450.7L703.8 451.3L705.8 451.8L707.8 452.2L709.8 452.5L711.8 452.7L713.8 452.8L715.8 452.8L717.8 452.7L719.8 452.5L721.8 452.2L723.8 451.7L725.8 451.0L727.8 450.2L729.8 449.3L731.8 448.2L733.8 446.9L735.8 445.5L737.8 443.8L739.8 442.0L741.8 440.0L743.8 437.9L745.8 435.6L747.8 433.3L749.8 431.1L751.8 428.9L753.8 426.9L755.8 425.2L757.8 423.6L759.8 422.4L761.8 421.4L763.8 420.7L765.8 420.2L767.8 420.1L769.8 420.2L771.8 420.6L773.8 421.1L775.8 421.8L777.8 422.6L779.8 423.5L781.8 424.4L783.8 425.3L785.8 426.1L787.8 426.9L789.8 427.7L791.8 428.4L793.8 429.0L795.8 429.6L797.8 430.0L799.8 430.3L801.8 430.5L803.8 430.6L805.8 430.5L807.8 430.3L808.1 430.2L808.9 430.1" stroke="#00f" stroke-width="2.05"/>
<path d="M447.00 526.10V295.30M748.50 526.10V295.30" stroke="#b8b8b8" stroke-width="1.35" stroke-dasharray="2.5 1.4"/>
</g>
<g clip-path="url(#k2)" fill="none" stroke-linejoin="round">
<path d="M447.00 558.50V788.80" stroke="#b8b8b8" stroke-width="1.35" stroke-dasharray="4.8 3.79" stroke-dashoffset="5.2"/>
<path d="M748.50 558.50V788.80" stroke="#b8b8b8" stroke-width="1.35" stroke-dasharray="4.8 3.79" stroke-dashoffset="-0.5"/>
<path d="M84.40 673.65H808.20" stroke="#111" stroke-width="1.4" stroke-dasharray="4.8 3.72"/>
<path d="M85.0 673.3L85.8 673.3L87.8 673.3L89.8 673.2L91.8 673.2L93.8 673.2L95.8 673.1L97.8 673.1L99.8 673.1L101.8 673.1L103.8 673.0L105.8 673.0L107.8 673.0L109.8 673.0L111.8 673.0L113.8 672.9L115.8 672.9L117.8 672.9L119.8 672.9L121.8 672.9L123.8 672.9L125.8 672.9L127.8 672.9L129.8 672.9L131.8 672.9L133.8 672.9L135.8 672.9L137.8 672.9L139.8 672.9L141.8 672.9L143.8 672.9L145.8 672.9L147.8 672.9L149.8 672.9L151.8 672.9L153.8 672.9L155.8 673.0L157.8 673.0L159.8 673.0L161.8 673.0L163.8 673.0L165.8 673.0L167.8 673.0L169.8 673.0L171.8 673.1L173.8 673.1L175.8 673.1L177.8 673.1L179.8 673.1L181.8 673.1L183.8 673.2L185.8 673.2L187.8 673.2L189.8 673.2L191.8 673.2L193.8 673.3L195.8 673.3L197.8 673.3L199.8 673.3L201.8 673.3L203.8 673.3L205.8 673.4L207.8 673.4L209.8 673.4L211.8 673.4L213.8 673.4L215.8 673.4L217.8 673.5L219.8 673.5L221.8 673.5L223.8 673.5L225.8 673.5L227.8 673.5L229.8 673.5L231.8 673.5L233.8 673.6L235.8 673.6L237.8 673.6L239.8 673.6L241.8 673.6L243.8 673.6L245.8 673.6L247.8 673.6L249.8 673.6L251.8 673.6L253.8 673.6L255.8 673.6L257.8 673.6L259.8 673.6L261.8 673.6L263.8 673.6L265.8 673.6L267.8 673.6L269.8 673.6L271.8 673.5L273.8 673.5L275.8 673.5L277.8 673.5L279.8 673.5L281.8 673.5L283.8 673.4L285.8 673.4L287.8 673.4L289.8 673.4L291.8 673.3L293.8 673.3L295.8 673.3L297.8 673.2L299.8 673.2L301.8 673.2L303.8 673.1L305.8 673.1L307.8 673.0L309.8 673.0L311.8 672.9L313.8 672.9L315.8 672.8L317.8 672.8L319.8 672.7L321.8 672.6L323.8 672.6L325.8 672.5L327.8 672.4L329.8 672.4L331.8 672.3L333.8 672.2L335.8 672.1L337.8 672.0L339.8 672.0L341.8 671.9L343.8 671.8L345.8 671.7L347.8 671.6L349.8 671.5L351.8 671.4L353.8 671.3L355.8 671.2L357.8 671.0L359.8 670.9L361.8 670.8L363.8 670.7L365.8 670.6L367.8 670.4L369.8 670.3L371.8 670.2L373.8 670.0L375.8 669.9L377.8 669.7L379.8 669.6L381.8 669.4L383.8 669.3L385.8 669.1L387.8 669.0L389.8 668.8L391.8 668.7L393.8 668.6L395.8 668.4L397.8 668.3L399.8 668.2L401.8 668.1L403.8 668.0L405.8 667.9L407.8 667.8L409.8 667.7L411.8 667.6L413.8 667.6L415.8 667.5L417.8 667.5L419.8 667.4L421.8 667.4L423.8 667.4L425.8 667.4L427.8 667.5L429.8 667.5L431.8 667.6L433.8 667.7L435.8 667.8L437.8 667.9L439.8 668.0L441.8 668.2L443.8 668.3L445.8 668.5L447.8 668.8L449.8 669.0L451.8 669.2L453.8 669.5L455.8 669.8L457.8 670.1L459.8 670.4L461.8 670.7L463.8 671.1L465.8 671.4L467.8 671.7L469.8 672.1L471.8 672.5L473.8 672.8L475.8 673.2L477.8 673.6L479.8 674.0L481.8 674.4L483.8 674.7L485.8 675.1L487.8 675.5L489.8 675.9L491.8 676.3L493.8 676.6L495.8 677.0L497.8 677.3L499.8 677.7L501.8 678.0L503.8 678.4L505.8 678.7L507.8 679.0L509.8 679.3L511.8 679.6L513.8 679.9L515.8 680.2L517.8 680.4L519.8 680.7L521.8 681.0L523.8 681.2L525.8 681.5L527.8 681.7L529.8 682.0L531.8 682.2L533.8 682.4L535.8 682.7L537.8 682.9L539.8 683.1L541.8 683.4L543.8 683.6L545.8 683.8L547.8 684.0L549.8 684.2L551.8 684.5L553.8 684.7L555.8 684.9L557.8 685.1L559.8 685.3L561.8 685.5L563.8 685.7L565.8 685.9L567.8 686.2L569.8 686.4L571.8 686.6L573.8 686.8L575.8 687.0L577.8 687.2L579.8 687.4L581.8 687.6L583.8 687.7L585.8 687.9L587.8 688.1L589.8 688.3L591.8 688.5L593.8 688.6L595.8 688.8L597.8 689.0L599.8 689.1L601.8 689.3L603.8 689.5L605.8 689.6L607.8 689.8L609.8 689.9L611.8 690.0L613.8 690.2L615.8 690.3L617.8 690.4L619.8 690.5L621.8 690.7L623.8 690.8L625.8 690.9L627.8 691.0L629.8 691.1L631.8 691.1L633.8 691.2L635.8 691.3L637.8 691.4L639.8 691.4L641.8 691.5L643.8 691.5L645.8 691.6L647.8 691.6L649.8 691.6L651.8 691.7L653.8 691.7L655.8 691.7L657.8 691.7L659.8 691.7L661.8 691.7L663.8 691.6L665.8 691.6L667.8 691.6L669.8 691.5L671.8 691.5L673.8 691.4L675.8 691.3L677.8 691.2L679.8 691.1L681.8 691.0L683.8 690.9L685.8 690.8L687.8 690.6L689.8 690.4L691.8 690.2L693.8 690.0L695.8 689.8L697.8 689.6L699.8 689.3L701.8 689.1L703.8 688.8L705.8 688.5L707.8 688.1L709.8 687.8L711.8 687.4L713.8 687.0L715.8 686.6L717.8 686.1L719.8 685.7L721.8 685.2L723.8 684.7L725.8 684.2L727.8 683.7L729.8 683.2L731.8 682.7L733.8 682.2L735.8 681.7L737.8 681.2L739.8 680.8L741.8 680.4L743.8 680.1L745.8 679.8L747.8 679.5L749.8 679.4L751.8 679.2L753.8 679.1L755.8 679.1L757.8 679.1L759.8 679.2L761.8 679.3L763.8 679.4L765.8 679.5L767.8 679.7L769.8 679.9L771.8 680.1L773.8 680.4L775.8 680.6L777.8 680.8L779.8 681.1L781.8 681.3L783.8 681.6L785.8 681.8L787.8 682.0L789.8 682.2L791.8 682.3L793.8 682.4L795.8 682.5L797.8 682.5L799.8 682.5L801.8 682.4L803.8 682.3L805.8 682.1L807.8 681.8L808.2 681.7L809.0 681.6" stroke="#00f" stroke-width="2.05"/>
<path d="M85.0 673.4L85.8 673.4L87.8 673.4L89.8 673.3L91.8 673.3L93.8 673.3L95.8 673.3L97.8 673.3L99.8 673.3L101.8 673.3L103.8 673.2L105.8 673.2L107.8 673.2L109.8 673.2L111.8 673.2L113.8 673.2L115.8 673.2L117.8 673.2L119.8 673.2L121.8 673.2L123.8 673.2L125.8 673.2L127.8 673.2L129.8 673.2L131.8 673.2L133.8 673.2L135.8 673.2L137.8 673.2L139.8 673.2L141.8 673.3L143.8 673.3L145.8 673.3L147.8 673.3L149.8 673.3L151.8 673.3L153.8 673.3L155.8 673.3L157.8 673.3L159.8 673.3L161.8 673.4L163.8 673.4L165.8 673.4L167.8 673.4L169.8 673.4L171.8 673.4L173.8 673.4L175.8 673.4L177.8 673.5L179.8 673.5L181.8 673.5L183.8 673.5L185.8 673.5L187.8 673.5L189.8 673.5L191.8 673.5L193.8 673.5L195.8 673.5L197.8 673.6L199.8 673.6L201.8 673.6L203.8 673.6L205.8 673.6L207.8 673.6L209.8 673.6L211.8 673.6L213.8 673.6L215.8 673.6L217.8 673.6L219.8 673.6L221.8 673.6L223.8 673.6L225.8 673.6L227.8 673.6L229.8 673.6L231.8 673.6L233.8 673.6L235.8 673.6L237.8 673.6L239.8 673.5L241.8 673.5L243.8 673.5L245.8 673.5L247.8 673.5L249.8 673.5L251.8 673.4L253.8 673.4L255.8 673.4L257.8 673.4L259.8 673.4L261.8 673.3L263.8 673.3L265.8 673.3L267.8 673.2L269.8 673.2L271.8 673.2L273.8 673.1L275.8 673.1L277.8 673.0L279.8 673.0L281.8 672.9L283.8 672.9L285.8 672.8L287.8 672.8L289.8 672.7L291.8 672.7L293.8 672.6L295.8 672.5L297.8 672.5L299.8 672.4L301.8 672.3L303.8 672.3L305.8 672.2L307.8 672.1L309.8 672.0L311.8 671.9L313.8 671.8L315.8 671.7L317.8 671.6L319.8 671.5L321.8 671.3L323.8 671.2L325.8 671.0L327.8 670.8L329.8 670.7L331.8 670.4L333.8 670.2L335.8 670.0L337.8 669.7L339.8 669.4L341.8 669.1L343.8 668.8L345.8 668.5L347.8 668.1L349.8 667.7L351.8 667.3L353.8 666.8L355.8 666.3L357.8 665.8L359.8 665.3L361.8 664.7L363.8 664.0L365.8 663.4L367.8 662.7L369.8 661.9L371.8 661.1L373.8 660.2L375.8 659.3L377.8 658.4L379.8 657.3L381.8 656.2L383.8 655.1L385.8 653.8L387.8 652.5L389.8 651.1L391.8 649.7L393.8 648.1L395.8 646.5L397.8 644.8L399.8 643.0L401.8 641.2L403.8 639.3L405.8 637.4L407.8 635.5L409.8 633.6L411.8 631.7L413.8 629.9L415.8 628.2L417.8 626.5L419.8 624.9L421.8 623.4L423.8 622.0L425.8 620.8L427.8 619.6L429.8 618.5L431.8 617.5L433.8 616.7L435.8 615.9L437.8 615.3L439.8 614.8L441.8 614.4L443.8 614.2L445.8 614.1L447.8 614.1L449.8 614.2L451.8 614.5L453.8 614.9L455.8 615.4L457.8 616.0L459.8 616.8L461.8 617.6L463.8 618.5L465.8 619.5L467.8 620.6L469.8 621.7L471.8 623.0L473.8 624.2L475.8 625.6L477.8 626.9L479.8 628.3L481.8 629.8L483.8 631.3L485.8 632.7L487.8 634.3L489.8 635.8L491.8 637.3L493.8 638.8L495.8 640.3L497.8 641.8L499.8 643.2L501.8 644.6L503.8 646.0L505.8 647.3L507.8 648.6L509.8 649.9L511.8 651.1L513.8 652.3L515.8 653.4L517.8 654.5L519.8 655.5L521.8 656.5L523.8 657.5L525.8 658.5L527.8 659.4L529.8 660.3L531.8 661.2L533.8 662.1L535.8 662.9L537.8 663.7L539.8 664.5L541.8 665.2L543.8 666.0L545.8 666.7L547.8 667.4L549.8 668.0L551.8 668.7L553.8 669.3L555.8 669.9L557.8 670.5L559.8 671.1L561.8 671.6L563.8 672.2L565.8 672.7L567.8 673.2L569.8 673.7L571.8 674.1L573.8 674.6L575.8 675.0L577.8 675.4L579.8 675.8L581.8 676.2L583.8 676.6L585.8 676.9L587.8 677.3L589.8 677.6L591.8 677.9L593.8 678.2L595.8 678.5L597.8 678.8L599.8 679.0L601.8 679.3L603.8 679.5L605.8 679.8L607.8 680.0L609.8 680.2L611.8 680.4L613.8 680.6L615.8 680.8L617.8 681.0L619.8 681.1L621.8 681.3L623.8 681.5L625.8 681.6L627.8 681.8L629.8 681.9L631.8 682.0L633.8 682.2L635.8 682.3L637.8 682.4L639.8 682.5L641.8 682.6L643.8 682.8L645.8 682.9L647.8 683.0L649.8 683.1L651.8 683.2L653.8 683.3L655.8 683.4L657.8 683.5L659.8 683.6L661.8 683.7L663.8 683.8L665.8 683.9L667.8 684.0L669.8 684.1L671.8 684.2L673.8 684.2L675.8 684.3L677.8 684.3L679.8 684.4L681.8 684.4L683.8 684.4L685.8 684.4L687.8 684.3L689.8 684.3L691.8 684.2L693.8 684.1L695.8 684.0L697.8 683.8L699.8 683.7L701.8 683.5L703.8 683.2L705.8 683.0L707.8 682.7L709.8 682.4L711.8 682.1L713.8 681.8L715.8 681.4L717.8 681.0L719.8 680.7L721.8 680.3L723.8 679.9L725.8 679.6L727.8 679.2L729.8 678.9L731.8 678.6L733.8 678.3L735.8 678.0L737.8 677.8L739.8 677.6L741.8 677.4L743.8 677.2L745.8 677.1L747.8 677.0L749.8 676.9L751.8 676.9L753.8 676.9L755.8 676.9L757.8 676.9L759.8 676.9L761.8 677.0L763.8 677.0L765.8 677.1L767.8 677.2L769.8 677.3L771.8 677.4L773.8 677.6L775.8 677.7L777.8 677.8L779.8 678.0L781.8 678.1L783.8 678.3L785.8 678.4L787.8 678.6L789.8 678.7L791.8 678.8L793.8 678.9L795.8 679.0L797.8 679.0L799.8 679.1L801.8 679.1L803.8 679.0L805.8 679.0L807.8 678.9L808.2 678.8L809.0 678.8" stroke="#f00" stroke-width="2.05"/>
</g>
<path transform="translate(67.53 289.50) scale(0.01050 0.01049)" d="M763 0H583V-1147Q518 -1085 412.5 -1023T223 -930V-1104Q374 -1175 487 -1276T647 -1472H763Z" fill="#000"/>
<text transform="translate(79.49 289.50) scale(1.0000 1.0350)" font-size="21.50">0</text>
<text transform="translate(91.34 279.50) scale(1.0000 1.0400)" font-size="12.30">-3</text>
<path transform="translate(248.18 289.50) scale(0.01050 0.01049)" d="M763 0H583V-1147Q518 -1085 412.5 -1023T223 -930V-1104Q374 -1175 487 -1276T647 -1472H763Z" fill="#000"/>
<text transform="translate(260.13 289.50) scale(1.0000 1.0350)" font-size="21.50">0</text>
<text transform="translate(271.98 279.50) scale(1.0000 1.0400)" font-size="12.30">-2</text>
<path transform="translate(429.59 289.50) scale(0.01050 0.01049)" d="M763 0H583V-1147Q518 -1085 412.5 -1023T223 -930V-1104Q374 -1175 487 -1276T647 -1472H763Z" fill="#000"/>
<text transform="translate(441.55 289.50) scale(1.0000 1.0350)" font-size="21.50">0</text>
<text transform="translate(453.39 279.50) scale(1.0000 1.0400)" font-size="12.30">-</text>
<path transform="translate(457.49 279.50) scale(0.00601 0.00603)" d="M763 0H583V-1147Q518 -1085 412.5 -1023T223 -930V-1104Q374 -1175 487 -1276T647 -1472H763Z" fill="#000"/>
<path transform="translate(611.31 289.50) scale(0.01050 0.01049)" d="M763 0H583V-1147Q518 -1085 412.5 -1023T223 -930V-1104Q374 -1175 487 -1276T647 -1472H763Z" fill="#000"/>
<text transform="translate(623.27 289.50) scale(1.0000 1.0350)" font-size="21.50">0</text>
<text transform="translate(635.18 279.50) scale(1.0000 1.0400)" font-size="12.30">0</text>
<path transform="translate(793.23 289.50) scale(0.01050 0.01049)" d="M763 0H583V-1147Q518 -1085 412.5 -1023T223 -930V-1104Q374 -1175 487 -1276T647 -1472H763Z" fill="#000"/>
<text transform="translate(805.19 289.50) scale(1.0000 1.0350)" font-size="21.50">0</text>
<path transform="translate(816.25 279.50) scale(0.00601 0.00603)" d="M763 0H583V-1147Q518 -1085 412.5 -1023T223 -930V-1104Q374 -1175 487 -1276T647 -1472H763Z" fill="#000"/>
<path transform="translate(67.53 552.90) scale(0.01050 0.01049)" d="M763 0H583V-1147Q518 -1085 412.5 -1023T223 -930V-1104Q374 -1175 487 -1276T647 -1472H763Z" fill="#000"/>
<text transform="translate(79.49 552.90) scale(1.0000 1.0350)" font-size="21.50">0</text>
<text transform="translate(91.34 542.90) scale(1.0000 1.0400)" font-size="12.30">-3</text>
<path transform="translate(248.18 552.90) scale(0.01050 0.01049)" d="M763 0H583V-1147Q518 -1085 412.5 -1023T223 -930V-1104Q374 -1175 487 -1276T647 -1472H763Z" fill="#000"/>
<text transform="translate(260.13 552.90) scale(1.0000 1.0350)" font-size="21.50">0</text>
<text transform="translate(271.98 542.90) scale(1.0000 1.0400)" font-size="12.30">-2</text>
<path transform="translate(429.59 552.90) scale(0.01050 0.01049)" d="M763 0H583V-1147Q518 -1085 412.5 -1023T223 -930V-1104Q374 -1175 487 -1276T647 -1472H763Z" fill="#000"/>
<text transform="translate(441.55 552.90) scale(1.0000 1.0350)" font-size="21.50">0</text>
<text transform="translate(453.39 542.90) scale(1.0000 1.0400)" font-size="12.30">-</text>
<path transform="translate(457.49 542.90) scale(0.00601 0.00603)" d="M763 0H583V-1147Q518 -1085 412.5 -1023T223 -930V-1104Q374 -1175 487 -1276T647 -1472H763Z" fill="#000"/>
<path transform="translate(611.31 552.90) scale(0.01050 0.01049)" d="M763 0H583V-1147Q518 -1085 412.5 -1023T223 -930V-1104Q374 -1175 487 -1276T647 -1472H763Z" fill="#000"/>
<text transform="translate(623.27 552.90) scale(1.0000 1.0350)" font-size="21.50">0</text>
<text transform="translate(635.18 542.90) scale(1.0000 1.0400)" font-size="12.30">0</text>
<path transform="translate(793.23 552.90) scale(0.01050 0.01049)" d="M763 0H583V-1147Q518 -1085 412.5 -1023T223 -930V-1104Q374 -1175 487 -1276T647 -1472H763Z" fill="#000"/>
<text transform="translate(805.19 552.90) scale(1.0000 1.0350)" font-size="21.50">0</text>
<path transform="translate(816.25 542.90) scale(0.00601 0.00603)" d="M763 0H583V-1147Q518 -1085 412.5 -1023T223 -930V-1104Q374 -1175 487 -1276T647 -1472H763Z" fill="#000"/>
<path transform="translate(67.53 815.60) scale(0.01050 0.01049)" d="M763 0H583V-1147Q518 -1085 412.5 -1023T223 -930V-1104Q374 -1175 487 -1276T647 -1472H763Z" fill="#000"/>
<text transform="translate(79.49 815.60) scale(1.0000 1.0350)" font-size="21.50">0</text>
<text transform="translate(91.34 805.60) scale(1.0000 1.0400)" font-size="12.30">-3</text>
<path transform="translate(248.18 815.60) scale(0.01050 0.01049)" d="M763 0H583V-1147Q518 -1085 412.5 -1023T223 -930V-1104Q374 -1175 487 -1276T647 -1472H763Z" fill="#000"/>
<text transform="translate(260.13 815.60) scale(1.0000 1.0350)" font-size="21.50">0</text>
<text transform="translate(271.98 805.60) scale(1.0000 1.0400)" font-size="12.30">-2</text>
<path transform="translate(429.59 815.60) scale(0.01050 0.01049)" d="M763 0H583V-1147Q518 -1085 412.5 -1023T223 -930V-1104Q374 -1175 487 -1276T647 -1472H763Z" fill="#000"/>
<text transform="translate(441.55 815.60) scale(1.0000 1.0350)" font-size="21.50">0</text>
<text transform="translate(453.39 805.60) scale(1.0000 1.0400)" font-size="12.30">-</text>
<path transform="translate(457.49 805.60) scale(0.00601 0.00603)" d="M763 0H583V-1147Q518 -1085 412.5 -1023T223 -930V-1104Q374 -1175 487 -1276T647 -1472H763Z" fill="#000"/>
<path transform="translate(611.31 815.60) scale(0.01050 0.01049)" d="M763 0H583V-1147Q518 -1085 412.5 -1023T223 -930V-1104Q374 -1175 487 -1276T647 -1472H763Z" fill="#000"/>
<text transform="translate(623.27 815.60) scale(1.0000 1.0350)" font-size="21.50">0</text>
<text transform="translate(635.18 805.60) scale(1.0000 1.0400)" font-size="12.30">0</text>
<path transform="translate(793.23 815.60) scale(0.01050 0.01049)" d="M763 0H583V-1147Q518 -1085 412.5 -1023T223 -930V-1104Q374 -1175 487 -1276T647 -1472H763Z" fill="#000"/>
<text transform="translate(805.19 815.60) scale(1.0000 1.0350)" font-size="21.50">0</text>
<path transform="translate(816.25 805.60) scale(0.00601 0.00603)" d="M763 0H583V-1147Q518 -1085 412.5 -1023T223 -930V-1104Q374 -1175 487 -1276T647 -1472H763Z" fill="#000"/>
<path transform="translate(47.97 94.69) scale(0.00901 0.00904)" d="M763 0H583V-1147Q518 -1085 412.5 -1023T223 -930V-1104Q374 -1175 487 -1276T647 -1472H763Z" fill="#000"/>
<text transform="translate(58.23 94.69) scale(1.0000 1.0400)" font-size="18.45">00</text>
<path transform="translate(58.23 158.74) scale(0.00901 0.00904)" d="M763 0H583V-1147Q518 -1085 412.5 -1023T223 -930V-1104Q374 -1175 487 -1276T647 -1472H763Z" fill="#000"/>
<text transform="translate(68.49 158.74) scale(1.0000 1.0400)" font-size="18.45">0</text>
<path transform="translate(68.49 222.78) scale(0.00901 0.00904)" d="M763 0H583V-1147Q518 -1085 412.5 -1023T223 -930V-1104Q374 -1175 487 -1276T647 -1472H763Z" fill="#000"/>
<text transform="translate(47.75 507.72) scale(1.0000 1.0100)" font-size="17.90">-0.4</text>
<text transform="translate(47.75 461.56) scale(1.0000 1.0100)" font-size="17.90">-0.2</text>
<text transform="translate(53.72 415.40) scale(1.0000 1.0100)" font-size="17.90">0.0</text>
<text transform="translate(53.72 369.24) scale(1.0000 1.0100)" font-size="17.90">0.2</text>
<text transform="translate(53.72 323.08) scale(1.0000 1.0100)" font-size="17.90">0.4</text>
<text transform="translate(47.75 770.47) scale(1.0000 1.0100)" font-size="17.90">-0.4</text>
<text transform="translate(47.75 724.41) scale(1.0000 1.0100)" font-size="17.90">-0.2</text>
<text transform="translate(53.72 678.35) scale(1.0000 1.0100)" font-size="17.90">0.0</text>
<text transform="translate(53.72 632.29) scale(1.0000 1.0100)" font-size="17.90">0.2</text>
<text transform="translate(53.72 586.23) scale(1.0000 1.0100)" font-size="17.90">0.4</text>
<text transform="translate(319.05 22.70) scale(1.0718 1.0300)" font-size="19.80">HD (v=</text>
<path transform="translate(385.67 22.70) scale(0.01036 0.00961)" d="M763 0H583V-1147Q518 -1085 412.5 -1023T223 -930V-1104Q374 -1175 487 -1276T647 -1472H763Z" fill="#000"/>
<text transform="translate(397.47 22.70) scale(1.0718 1.0300)" font-size="19.80">,j=2) + H</text>
<text transform="translate(477.97 30.30) scale(1.0800 1.0000)" font-size="11.60">2</text>
<text transform="translate(490.97 22.70) scale(1.0751 1.0300)" font-size="19.80">(j=0)</text>
<path d="M618.3 57.4H676.1" stroke="#f00" stroke-width="2.4"/>
<path d="M618.3 90.9H676.1" stroke="#00f" stroke-width="2.4"/>
<text transform="translate(682.23 66.10) scale(1.0000 1.0400)" font-size="22.30">Δ</text>
<text transform="translate(697.82 66.10) scale(1.1050 1.0400)" font-size="22.30">j=-</text>
<path transform="translate(725.89 66.10) scale(0.01203 0.01093)" d="M763 0H583V-1147Q518 -1085 412.5 -1023T223 -930V-1104Q374 -1175 487 -1276T647 -1472H763Z" fill="#000"/>
<text transform="translate(682.23 99.40) scale(1.0000 1.0400)" font-size="22.30">Δ</text>
<text transform="translate(697.82 99.40) scale(1.1050 1.0400)" font-size="22.30">j=-2</text>
<text transform="translate(223.28 187.70) scale(1.0000 1.0400)" font-size="18.40" style="fill:#f00">L=2</text>
<text transform="translate(360.08 246.00) scale(1.0000 1.0400)" font-size="18.40" style="fill:#00f">L=2</text>
<text transform="translate(109.24 330.00) scale(1.0000 1.0000)" font-size="25.00">all-L</text>
<text transform="translate(108.24 596.20) scale(1.0000 1.0000)" font-size="25.00">L=2 contribution</text>
<g transform="translate(35.2 199.0) rotate(-90)">
<text transform="translate(0.00 0.00) scale(1.0000 0.9300)" font-size="30.00">σ</text>
<text transform="translate(18.52 0.00) scale(1.0000 0.9800)" font-size="30.00">(</text>
<text transform="translate(28.51 0.00) scale(1.0000 1.0400)" font-size="30.00">A</text>
<text transform="translate(47.72 -16.00) scale(1.0000 1.0400)" font-size="18.00">2</text>
<text transform="translate(57.83 0.00) scale(1.0000 0.9800)" font-size="30.00">)</text>
</g>
<circle cx="8.5" cy="160.4" r="1.95" fill="none" stroke="#000" stroke-width="1.3"/>
<g transform="translate(36.6 430.6) rotate(-90)">
<text transform="translate(0.00 0.00) scale(0.9500 1.0400)" font-size="30.00">s</text>
<text transform="translate(15.80 10.20) scale(0.9000 1.0400)" font-size="18.00">0</text>
<text transform="translate(16.60 -15.50) scale(0.8900 1.0000)" font-size="18.00">{2}</text>
</g>
<g transform="translate(36.6 693.7) rotate(-90)">
<text transform="translate(0.00 0.00) scale(0.9500 1.0400)" font-size="30.00">s</text>
<text transform="translate(15.80 10.20) scale(0.9000 1.0400)" font-size="18.00">0</text>
<text transform="translate(16.60 -15.50) scale(0.8900 1.0000)" font-size="18.00">{2}</text>
</g>
<text transform="translate(399.50 838.80) scale(1.0000 1.0400)" font-size="30.00">E</text>
<text transform="translate(419.50 849.00) scale(1.0000 1.0000)" font-size="18.00">coll</text>
<text transform="translate(454.80 838.80) scale(1.0000 1.0000)" font-size="30.00">(K)</text>
</svg></body></html>
